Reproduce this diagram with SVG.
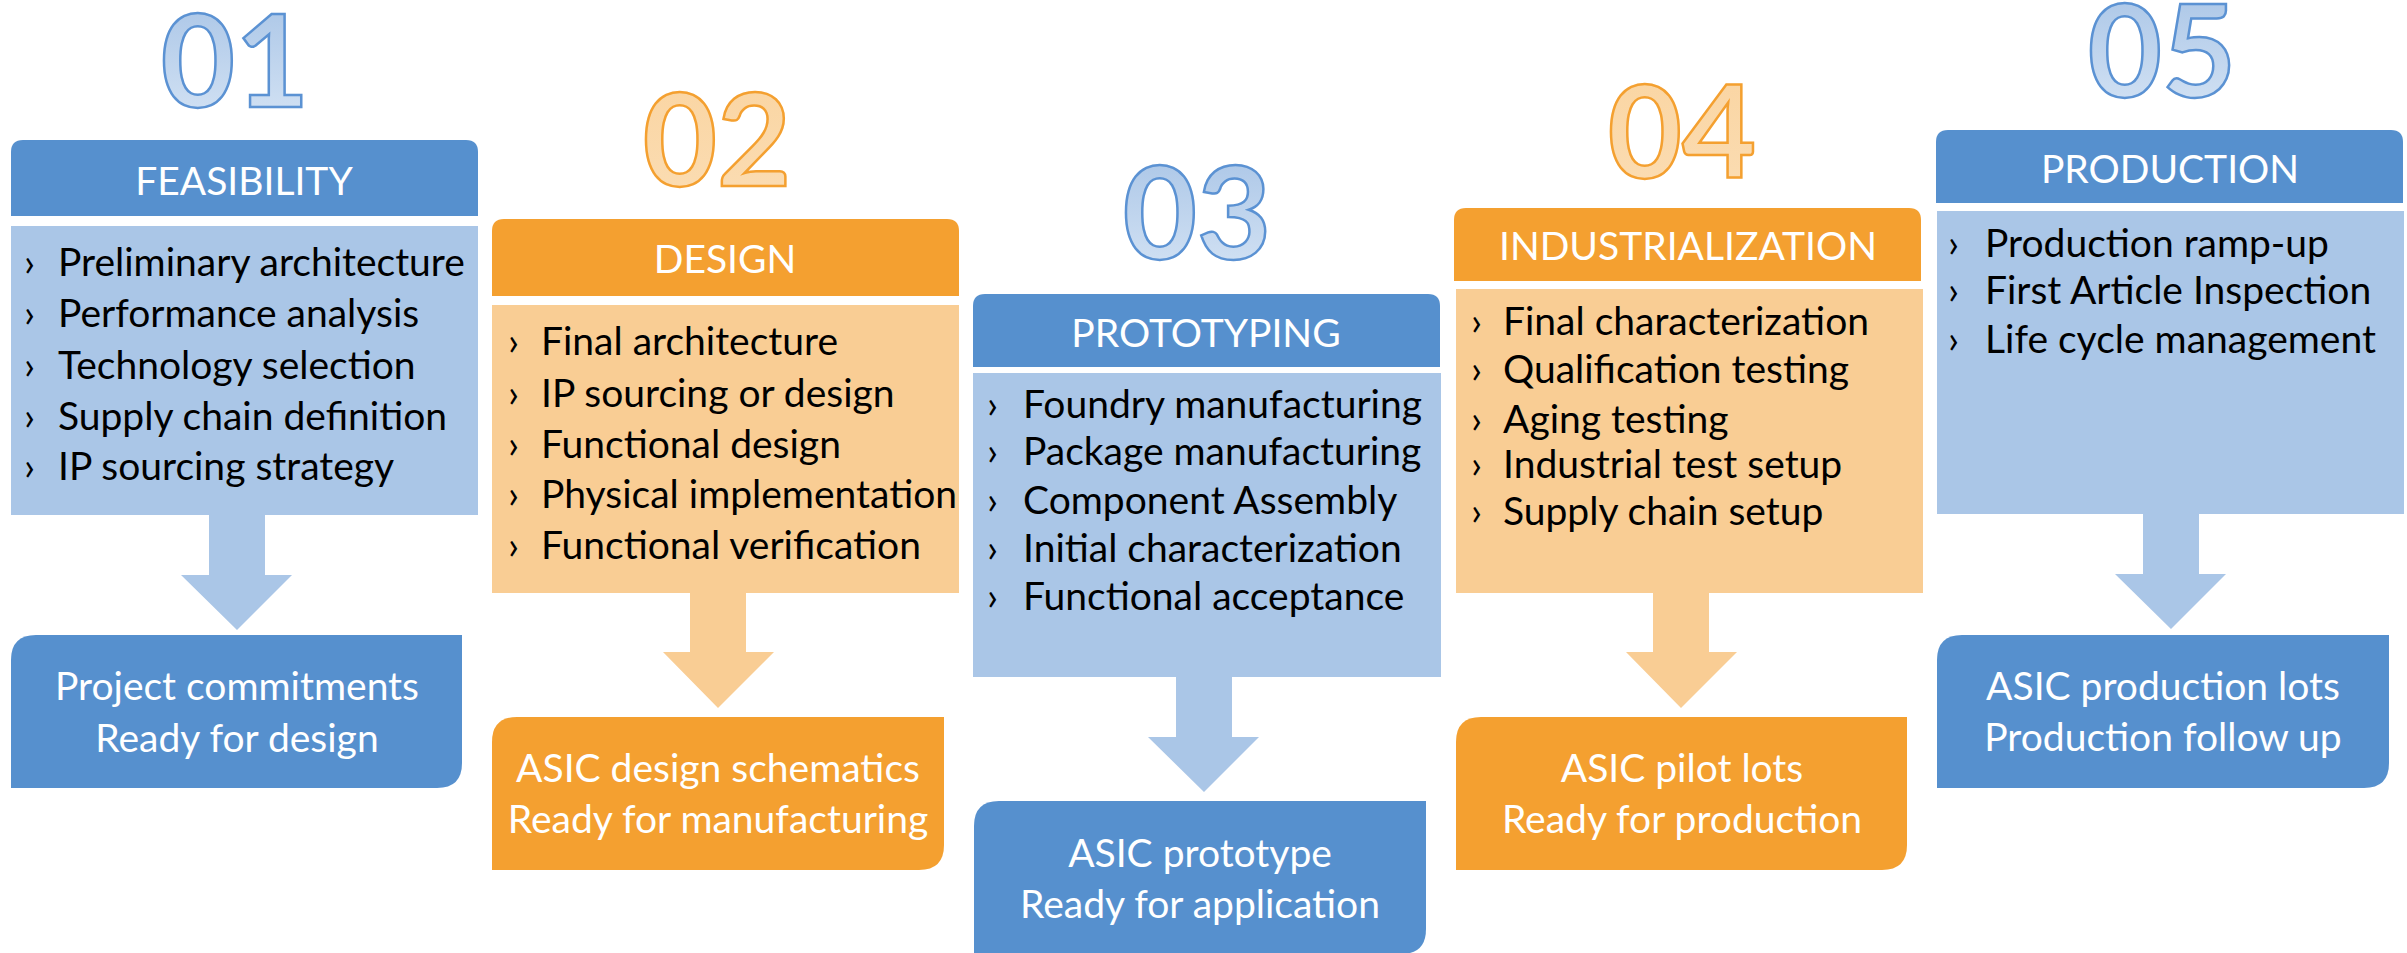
<svg xmlns="http://www.w3.org/2000/svg" width="2407" height="953" viewBox="0 0 2407 953">
<defs>
<linearGradient id="gBlue" x1="0" y1="0" x2="0" y2="1">
<stop offset="0" stop-color="#A5C2E5"/>
<stop offset="1" stop-color="#D7E5F5"/>
</linearGradient>
<linearGradient id="gOrange" x1="0" y1="0" x2="0" y2="1">
<stop offset="0" stop-color="#FAD4A0"/>
<stop offset="1" stop-color="#FBDDB4"/>
</linearGradient>
<style>
.num{font-family:Lato,"Liberation Sans",sans-serif;font-weight:700;font-size:128px;text-anchor:middle;stroke-width:2.5}
.nb{fill:url(#gBlue);stroke:#5B92D3}
.no{fill:url(#gOrange);stroke:#F4A030}
.hb{fill:#5690CE}
.ho{fill:#F4A030}
.bb{fill:#AAC6E7}
.bo{fill:#F9CD94}
.ht{font-family:Lato,"Liberation Sans",sans-serif;font-size:39px;fill:#fff;text-anchor:middle}
.it{font-family:Lato,"Liberation Sans",sans-serif;font-size:39px;fill:#000}
.ot{font-family:Lato,"Liberation Sans",sans-serif;font-size:39px;fill:#fff;text-anchor:middle}
</style>
</defs>
<rect width="2407" height="953" fill="#fff"/>

<g id="connectors">
<path class="bb" d="M209,514 H265 V575 H292 L237,630 L181,575 H209 Z"/>
<path class="bo" d="M690,592 H746 V652 H774 L718,708 L663,652 H690 Z"/>
<path class="bb" d="M1176,676 H1232 V737 H1259 L1204,792 L1148,737 H1176 Z"/>
<path class="bo" d="M1653,592 H1709 V652 H1737 L1681,708 L1626,652 H1653 Z"/>
<path class="bb" d="M2143,513 H2199 V574 H2226 L2171,629 L2115,574 H2143 Z"/>
</g>

<g id="step1">
<text class="num nb" x="235" y="107">01</text>
<path class="hb" d="M11,216 V152 Q11,140 23,140 H466 Q478,140 478,152 V216 Z"/>
<text class="ht" x="244" y="195">FEASIBILITY</text>
<rect class="bb" x="11" y="226" width="467" height="289"/>
<text class="it" x="24" y="276">›</text><text class="it" x="58" y="276">Preliminary architecture</text>
<text class="it" x="24" y="327">›</text><text class="it" x="58" y="327">Performance analysis</text>
<text class="it" x="24" y="379">›</text><text class="it" x="58" y="379">Technology selection</text>
<text class="it" x="24" y="430">›</text><text class="it" x="58" y="430">Supply chain definition</text>
<text class="it" x="24" y="480">›</text><text class="it" x="58" y="480">IP sourcing strategy</text>
</g>
<g id="out1">
<path class="hb" d="M11,788 V660 Q11,635 36,635 H462 V763 Q462,788 437,788 Z"/>
<text class="ot" x="237" y="700">Project commitments</text>
<text class="ot" x="237" y="752">Ready for design</text>
</g>

<g id="step2">
<text class="num no" x="717" y="186">02</text>
<path class="ho" d="M492,296 V231 Q492,219 504,219 H947 Q959,219 959,231 V296 Z"/>
<text class="ht" x="725" y="273">DESIGN</text>
<rect class="bo" x="492" y="305" width="467" height="288"/>
<text class="it" x="508" y="355">›</text><text class="it" x="541" y="355">Final architecture</text>
<text class="it" x="508" y="407">›</text><text class="it" x="541" y="407">IP sourcing or design</text>
<text class="it" x="508" y="458">›</text><text class="it" x="541" y="458">Functional design</text>
<text class="it" x="508" y="508">›</text><text class="it" x="541" y="508">Physical implementation</text>
<text class="it" x="508" y="559">›</text><text class="it" x="541" y="559">Functional verification</text>
</g>
<g id="out2">
<path class="ho" d="M492,870 V742 Q492,717 517,717 H944 V845 Q944,870 919,870 Z"/>
<text class="ot" x="718" y="782">ASIC design schematics</text>
<text class="ot" x="718" y="833">Ready for manufacturing</text>
</g>

<g id="step3">
<text class="num nb" x="1197" y="259">03</text>
<path class="hb" d="M973,367 V306 Q973,294 985,294 H1428 Q1440,294 1440,306 V367 Z"/>
<text class="ht" x="1206" y="347">PROTOTYPING</text>
<rect class="bb" x="973" y="373" width="468" height="304"/>
<text class="it" x="987" y="418">›</text><text class="it" x="1023" y="418">Foundry manufacturing</text>
<text class="it" x="987" y="465">›</text><text class="it" x="1023" y="465">Package manufacturing</text>
<text class="it" x="987" y="514">›</text><text class="it" x="1023" y="514">Component Assembly</text>
<text class="it" x="987" y="562">›</text><text class="it" x="1023" y="562">Initial characterization</text>
<text class="it" x="987" y="610">›</text><text class="it" x="1023" y="610">Functional acceptance</text>
</g>
<g id="out3">
<path class="hb" d="M974,954 V826 Q974,801 999,801 H1426 V929 Q1426,954 1401,954 Z"/>
<text class="ot" x="1200" y="867">ASIC prototype</text>
<text class="ot" x="1200" y="918">Ready for application</text>
</g>

<g id="step4">
<text class="num no" x="1682" y="178">04</text>
<path class="ho" d="M1454,281 V220 Q1454,208 1466,208 H1909 Q1921,208 1921,220 V281 Z"/>
<text class="ht" x="1688" y="260">INDUSTRIALIZATION</text>
<rect class="bo" x="1456" y="289" width="467" height="304"/>
<text class="it" x="1471" y="335">›</text><text class="it" x="1503" y="335">Final characterization</text>
<text class="it" x="1471" y="383">›</text><text class="it" x="1503" y="383">Qualification testing</text>
<text class="it" x="1471" y="433">›</text><text class="it" x="1503" y="433">Aging testing</text>
<text class="it" x="1471" y="478">›</text><text class="it" x="1503" y="478">Industrial test setup</text>
<text class="it" x="1471" y="525">›</text><text class="it" x="1503" y="525">Supply chain setup</text>
</g>
<g id="out4">
<path class="ho" d="M1456,870 V742 Q1456,717 1481,717 H1907 V845 Q1907,870 1882,870 Z"/>
<text class="ot" x="1682" y="782">ASIC pilot lots</text>
<text class="ot" x="1682" y="833">Ready for production</text>
</g>

<g id="step5">
<text class="num nb" x="2162" y="97">05</text>
<path class="hb" d="M1936,203 V142 Q1936,130 1948,130 H2391 Q2403,130 2403,142 V203 Z"/>
<text class="ht" x="2170" y="183">PRODUCTION</text>
<rect class="bb" x="1937" y="211" width="467" height="303"/>
<text class="it" x="1948" y="257">›</text><text class="it" x="1985" y="257">Production ramp-up</text>
<text class="it" x="1948" y="304">›</text><text class="it" x="1985" y="304">First Article Inspection</text>
<text class="it" x="1948" y="353">›</text><text class="it" x="1985" y="353">Life cycle management</text>
</g>
<g id="out5">
<path class="hb" d="M1937,788 V660 Q1937,635 1962,635 H2389 V763 Q2389,788 2364,788 Z"/>
<text class="ot" x="2163" y="700">ASIC production lots</text>
<text class="ot" x="2163" y="751">Production follow up</text>
</g>
</svg>
